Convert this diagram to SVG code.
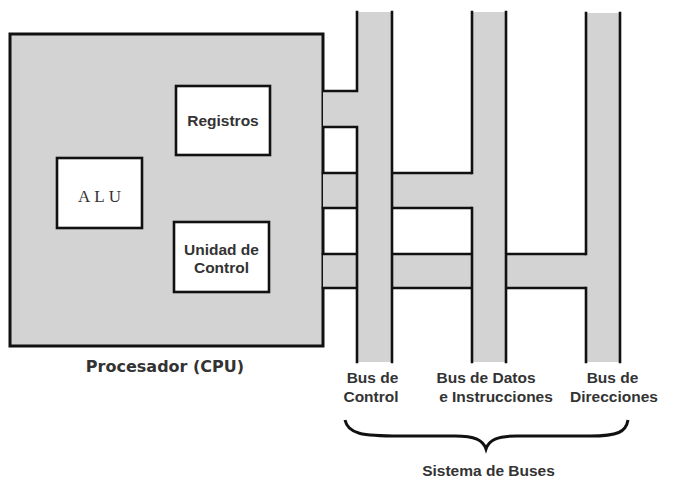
<svg xmlns="http://www.w3.org/2000/svg" width="677" height="490" viewBox="0 0 677 490">
<style>
.gray{fill:#d3d3d3;stroke:none}
.ln{fill:none;stroke:#111;stroke-width:2.6;stroke-linecap:square}
.box{fill:#fff;stroke:#111;stroke-width:2.6}
.t{font-family:"Liberation Sans",Arial,sans-serif;font-weight:bold;font-size:15.5px;fill:#333;text-anchor:middle}
.serif{font-family:"Liberation Serif","Times New Roman",serif;font-size:17px;fill:#333;letter-spacing:4px;text-anchor:middle}
</style>
<rect width="677" height="490" fill="#fff"/>
<g id="cpu">
<rect x="10" y="34" width="313" height="312" fill="#d3d3d3" stroke="#111" stroke-width="3"/>
<text x="165" y="372" style="font-family:'DejaVu Sans',sans-serif;font-weight:bold;font-size:16px;fill:#333;text-anchor:middle">Procesador (CPU)</text>
</g>
<g id="alu">
<rect class="box" x="57" y="158" width="85" height="70"/>
<text class="serif" x="101.5" y="202">ALU</text>
</g>
<g id="registros">
<rect class="box" x="176" y="86" width="94" height="69"/>
<text class="t" x="223" y="126">Registros</text>
</g>
<g id="unidad-control">
<rect class="box" x="174" y="222" width="95" height="70"/>
<text class="t" x="221.5" y="255">Unidad de</text>
<text class="t" x="221.5" y="273">Control</text>
</g>
<g id="connectors">
<rect class="gray" x="323" y="91" width="34" height="36"/>
<rect class="gray" x="323" y="173" width="149" height="35"/>
<rect class="gray" x="323" y="254" width="263" height="34"/>
<path class="ln" d="M323,173H357M323,208H357M323,254H357M323,288H357"/>
<path class="ln" d="M392,173H472M392,208H472M392,254H472M392,288H472"/>
<path class="ln" d="M506,254H586M506,288H586"/>
</g>
<g id="bus-control">
<rect class="gray" x="357" y="12" width="35" height="350"/>
<path class="ln" d="M357,12V91H324M324,127H357V362M392,12V362"/>
<text class="t" x="372.5" y="383">Bus de</text>
<text class="t" x="371" y="402">Control</text>
</g>
<g id="bus-datos">
<rect class="gray" x="472" y="12" width="34" height="350"/>
<path class="ln" d="M472,12V173M472,208V362M506,12V362"/>
<text class="t" x="486" y="383">Bus de Datos</text>
<text class="t" x="496" y="402">e Instrucciones</text>
</g>
<g id="bus-direcciones">
<rect class="gray" x="586" y="13" width="34" height="349"/>
<path class="ln" d="M586,13V254M586,288V362M620,13V362"/>
<text class="t" x="612.5" y="383">Bus de</text>
<text class="t" x="614" y="402">Direcciones</text>
</g>
<g id="sistema-buses">
<path d="M345,420C348,434 362,436 400,436L455,436C475,436 483,440 486,449C489,440 497,436 517,436L590,436C618,436 626,432 628,420" fill="none" stroke="#111" stroke-width="3"/>
<text class="t" x="488.5" y="476">Sistema de Buses</text>
</g>
</svg>
